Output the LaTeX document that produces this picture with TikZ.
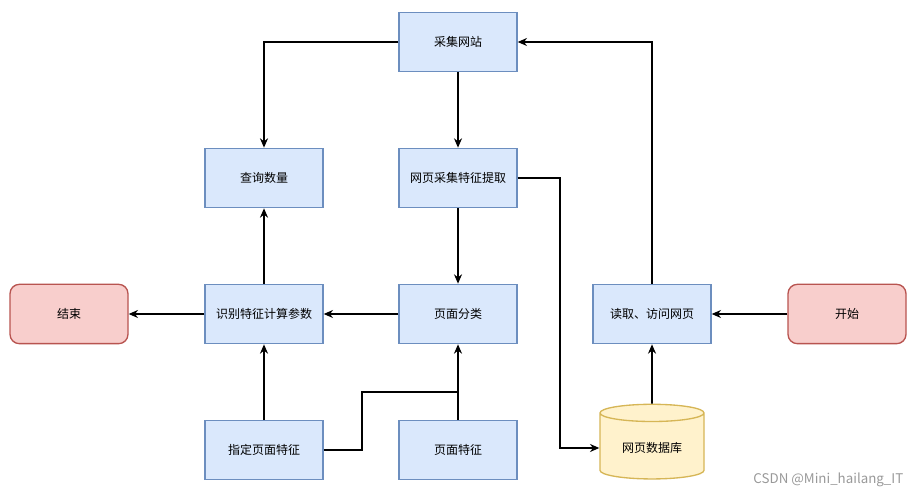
\documentclass[tikz,border=0pt]{standalone}
\usepackage{fontspec}
\setmainfont{Noto Sans CJK SC}
\usetikzlibrary{shapes.geometric,arrows.meta}
\definecolor{bfill}{HTML}{DAE8FC}\definecolor{bline}{HTML}{6C8EBF}
\definecolor{rfill}{HTML}{F8CECC}\definecolor{rline}{HTML}{B85450}
\definecolor{yfill}{HTML}{FFF2CC}\definecolor{yline}{HTML}{D6B656}
\begin{document}
\begin{tikzpicture}[x=0.75pt,y=-0.75pt,
  box/.style={draw=bline,fill=bfill,line width=1pt,minimum width=88.5pt,minimum height=44.5pt,font=\fontsize{9}{10}\selectfont},
  term/.style={box,draw=rline,fill=rfill,rounded corners=7pt},
  db/.style={cylinder,shape border rotate=90,aspect=0.25,draw=yline,fill=yfill,line width=1pt,minimum width=78pt,minimum height=56pt,font=\fontsize{9}{10}\selectfont},
  arr/.style={-{Stealth[length=7pt,width=6pt]},line width=1.3pt}]
\useasboundingbox (0,0) rectangle (911,495);
\node[box] (cj) at (458,42) {采集网站};
\node[box] (tq) at (458,178) {网页采集特征提取};
\node[box] (cx) at (264,178) {查询数量};
\node[box] (sb) at (264,314) {识别特征计算参数};
\node[box] (fl) at (458,314) {页面分类};
\node[box] (dq) at (652,314) {读取、访问网页};
\node[term] (js) at (69,314) {结束};
\node[term] (ks) at (847,314) {开始};
\node[box] (zd) at (264,450) {指定页面特征};
\node[box] (tz) at (458,450) {页面特征};
\node[db] (sjk) at (652,448) {网页数据库};
\coordinate (j1) at (362,392);
\draw[arr] (cj.west) -| (cx.north);
\draw[arr] (cj) -- (tq);
\draw[arr] (tq.east) -- (560,178) |- (sjk.west);
\draw[arr] (tq) -- (fl);
\draw[arr] (fl) -- (sb);
\draw[arr] (sb) -- (js);
\draw[arr] (sb) -- (cx);
\draw[arr] (zd) -- (sb);
\draw[line width=1.3pt] (zd.east) -| (j1) -- (458,392);
\draw[arr] (tz) -- (fl);
\draw[arr] (ks) -- (dq);
\draw[arr] (sjk) -- (dq);
\draw[arr] (dq.north) |- (cj.east);
\node[anchor=east,text=gray!80,font=\fontsize{10}{11}\selectfont] (wm) at (908,480) {CSDN @Mini\_hailang\_IT};
\end{tikzpicture}
\end{document}
